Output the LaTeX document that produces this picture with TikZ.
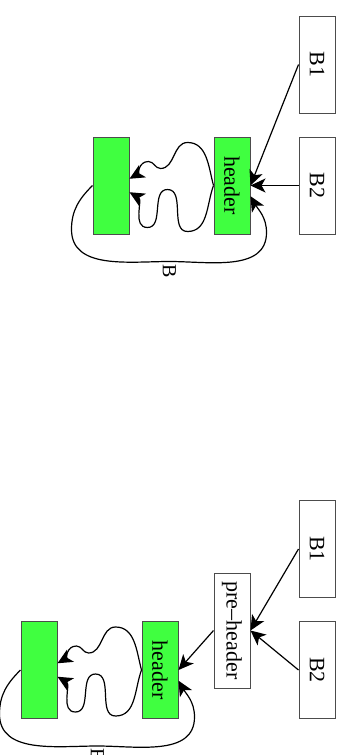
\documentclass[tikz,border=0pt]{standalone}
\usepackage{fontspec}
\setmainfont{Liberation Serif}
\usetikzlibrary{arrows.meta}
\definecolor{blockgreen}{RGB}{64,255,64}

\tikzset{
  blk/.style={draw=black!70, line width=0.5pt, minimum width=48.5pt, minimum height=18pt,
    inner sep=2pt, font=\fontsize{11}{13}\selectfont},
  hblk/.style={blk, fill=blockgreen},
  edge/.style={-{Stealth[length=7.5pt,width=7pt,inset=2pt]}, line width=0.6pt}
}

% back edges from the header into the body, and the long edge round it
\newcommand{\wiggles}[2]{%
  \draw[edge] (#1.south) to[out=195,in=90] ++(-43,-26) to[out=-90,in=90] ++(26,-27)
    to[out=-90,in=90] ++(-7,-12) to[out=-90,in=120] (#2.110);
  \draw[edge] (#1.south) to[out=-20,in=90] ++(46,-26) to[out=-90,in=90] ++(-42,-20)
    to[out=-90,in=90] ++(38,-20) to[out=-90,in=60] (#2.70);
  \draw[edge] (#2.south) to[out=-45,in=180] ++(44,-21) to[out=0,in=-90] ++(32,98)
    node[right,inner sep=1pt] {B} to[out=90,in=0] ++(-29,97) to[out=180,in=30] (#1.60);
}

\begin{document}
\begin{tikzpicture}[x=0.5pt,y=0.5pt]
\begin{scope}[rotate=-90,transform shape]
\useasboundingbox (0,0) rectangle (755,344);
% loop entered straight from B1 and B2
\node[blk] (b1) at (64.5,317) {B1};
\node[blk] (b2) at (185.5,317) {B2};
\node[hblk] (hdr) at (185.5,232) {header};
\node[hblk] (body) at (185.5,111) {};
\draw[edge] (b1.south) -- (hdr.north);
\draw[edge] (b2.south) -- (hdr.north);
\wiggles{hdr}{body}
% the same loop with a pre-header
\node[blk] (b1p) at (549,317) {B1};
\node[blk] (b2p) at (670,317) {B2};
\node[blk, minimum width=57.5pt] (pre) at (630.5,232) {pre--header};
\node[hblk] (hdrp) at (670,160) {header};
\node[hblk] (bodyp) at (670,39) {};
\draw[edge] (b1p.south) -- (pre.north);
\draw[edge] (b2p.south) -- (pre.north);
\draw[edge] (pre.south) -- (hdrp.north);
\wiggles{hdrp}{bodyp}
\end{scope}
\end{tikzpicture}
\end{document}
